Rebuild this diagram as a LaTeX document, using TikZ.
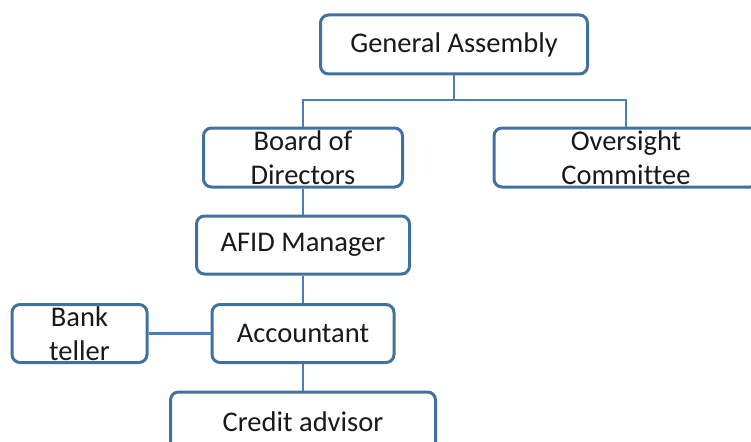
\documentclass[tikz,border=0pt]{standalone}
\usepackage{fontspec}
\setmainfont{Carlito}[Ligatures={NoCommon}]
\definecolor{boxline}{HTML}{41719C}
\definecolor{conn}{HTML}{4A7EBB}
\begin{document}
\begin{tikzpicture}[x=1pt,y=-1pt,
  orgbox/.style={draw=boxline, line width=3pt, rounded corners=8pt, fill=white,
    inner sep=0pt, align=center, font=\fontsize{28.5}{34}\selectfont,
    text=black!90},
  link/.style={draw=conn, line width=2.2pt}]
\useasboundingbox (0,0) rectangle (751,441);
\node[orgbox, minimum width=267pt, minimum height=59pt] (ga) at (454,44.5) {General Assembly};
\node[orgbox, minimum width=199pt, minimum height=59pt] (bod) at (303,157.5) {Board of\\Directors};
\node[orgbox, minimum width=264pt, minimum height=59pt] (os) at (626,157.5) {Oversight\\Committee};
\node[orgbox, minimum width=213pt, minimum height=58pt] (afid) at (303,245) {AFID Manager};
\node[orgbox, minimum width=182pt, minimum height=58pt] (acc) at (303,333.5) {Accountant};
\node[orgbox, minimum width=135pt, minimum height=58pt] (bank) at (79.5,333.5) {Bank\\teller};
\node[orgbox, minimum width=265pt, minimum height=59pt] (cred) at (303,421.5) {Credit advisor};
\coordinate (j) at (454,100);
\draw[link] (ga.south) -- (j);
\draw[link] (bod.north) |- (j) -| (os.north);
\draw[link] (bod.south) -- (afid.north);
\draw[link] (afid.south) -- (acc.north);
\draw[link] (acc.west) -- (bank.east);
\draw[link] (acc.south) -- (cred.north);
\end{tikzpicture}
\end{document}
